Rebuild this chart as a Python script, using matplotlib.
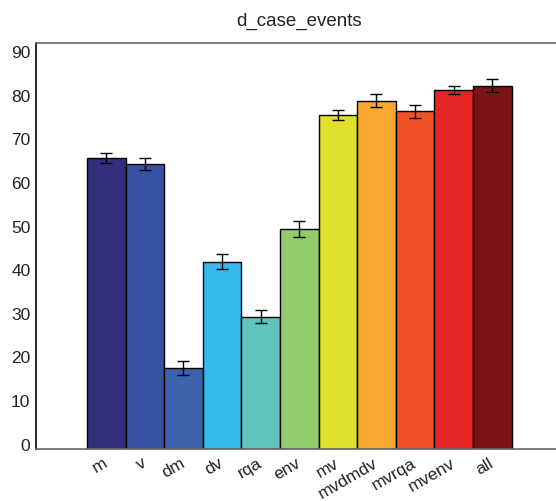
import matplotlib
matplotlib.use("Agg")
import matplotlib.pyplot as plt
import matplotlib.transforms as mtransforms
import numpy as np

# Feature sets and their scores (mean and error)
categories = ["m", "v", "dm", "dv", "rqa", "env", "mv", "mvdmdv", "mvrqa", "mvenv", "all"]
means = [66.6, 65.3, 18.5, 42.9, 30.3, 50.4, 76.6, 79.8, 77.3, 82.3, 83.2]
errors = [1.2, 1.4, 1.5, 1.7, 1.45, 1.8, 1.15, 1.4, 1.5, 0.9, 1.45]
colors = ["#332d7e", "#3852a3", "#3b62aa", "#35b9eb", "#61c4bf", "#92ca6c",
          "#dfe12e", "#f8a72f", "#ef5229", "#e42526", "#7a1315"]
yticks = [0, 10, 20, 30, 40, 50, 60, 70, 80, 90]

plt.rcParams["font.family"] = ["Liberation Sans", "DejaVu Sans"]

fig = plt.figure(figsize=(5.56, 5.02), dpi=100)
W, H = 556, 502
left, right, top, bottom = 36, 562.5, 44, 449.7
ax = fig.add_axes([left / W, 1 - bottom / H, (right - left) / W, (bottom - top) / H])

x = np.arange(1, len(categories) + 1)
ax.bar(x, means, width=1.0, color=colors, edgecolor="black", linewidth=1.0, zorder=2)
ax.errorbar(x, means, yerr=errors, fmt="none", ecolor="black", elinewidth=1.0,
            capsize=4.2, capthick=1.0, zorder=3)

ax.set_xlim(0.5 - 1.32, 11.5 + 1.32)
ax.set_ylim(0, 93)
ax.set_yticks(yticks)
ax.set_xticks(x)
ax.set_xticklabels(categories, rotation=30, ha="right", va="center",
                   rotation_mode="anchor", fontsize=12.5, color="#222222")
ax.tick_params(axis="both", length=0, labelsize=12.5, colors="#222222")
ax.tick_params(axis="x", pad=9)
ax.tick_params(axis="y", pad=4)

# lift the y labels slightly above their gridline positions
offset = mtransforms.ScaledTranslation(0, 5 / 100, fig.dpi_scale_trans)
for lab in ax.get_yticklabels():
    lab.set_transform(lab.get_transform() + offset)

ax.spines["left"].set_color("black")
ax.spines["bottom"].set_color("#666666")
ax.spines["top"].set_color("#666666")
ax.spines["right"].set_color("#666666")
for s in ax.spines.values():
    s.set_linewidth(1.2)

ax.set_title("d_case_events", fontsize=13.5, color="#222222", pad=13)

fig.savefig("out.png", dpi=100)
